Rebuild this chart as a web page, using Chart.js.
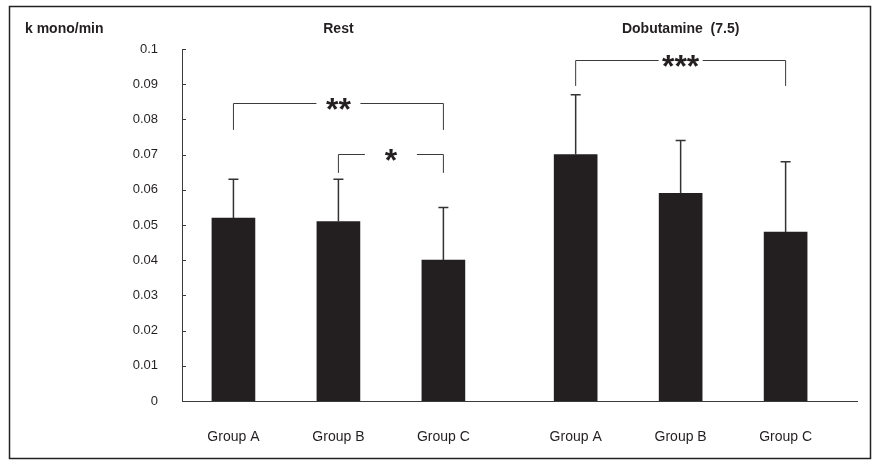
<!DOCTYPE html>
<html>
<head>
<meta charset="utf-8">
<script src="https://cdn.jsdelivr.net/npm/chart.js@4"></script>
<style>
  html, body { margin: 0; background: #fff; }
  #wrap { width: 874px; height: 460px; }
</style>
</head>
<body>
<div id="wrap"><canvas id="kChart"></canvas></div>
<script>
const groups = ["Group A", "Group B", "Group C"];
const conditions = ["Rest", "Dobutamine  (7.5)"];
const restMeans = [0.052, 0.051, 0.040];
const restSD = [0.011, 0.012, 0.015];
const dobuMeans = [0.070, 0.059, 0.048];
const dobuSD = [0.017, 0.015, 0.020];
const yTicks = [0, 0.01, 0.02, 0.03, 0.04, 0.05, 0.06, 0.07, 0.08, 0.09, 0.1];
const yLabel = "k mono/min";
// [condition, from group, to group, stars, bracket level, foot level]
const sigMarks = [
    [0, 0, 2, "**", 0.0847, 0.077],
    [0, 1, 2, "*", 0.0702, 0.0648],
    [1, 0, 2, "***", 0.0969, 0.0895]
];

const ink = "#231f20";
const lineCol = "#3a3a3a";

// x position of a bar: groups sit one unit apart, second condition shifted right
function slot(c, g) {
    return c * 3.26 + g + 0.49;
}

const allMeans = [restMeans, dobuMeans];
const allSD = [restSD, dobuSD];
const xLabels = [];
const xPos = [];
for (let c = 0; c < conditions.length; c++) {
    for (let g = 0; g < groups.length; g++) {
        xLabels.push(groups[g]);
        xPos.push(slot(c, g));
    }
}

const decorations = {
    id: "decorations",
    afterDatasetsDraw(chart) {
        const ctx = chart.ctx;
        const x = chart.scales.x;
        const y = chart.scales.y;
        ctx.save();

        // y tick marks pointing into the plot
        ctx.strokeStyle = lineCol;
        ctx.lineWidth = 1;
        for (const v of yTicks) {
            const py = Math.round(y.getPixelForValue(v)) + 0.5;
            ctx.beginPath();
            ctx.moveTo(x.left, py);
            ctx.lineTo(x.left + 4, py);
            ctx.stroke();
        }

        // error bars (upper only)
        ctx.strokeStyle = "#333";
        ctx.lineWidth = 1.5;
        for (let c = 0; c < conditions.length; c++) {
            const meta = chart.getDatasetMeta(c);
            meta.data.forEach((bar, g) => {
                const top = y.getPixelForValue(allMeans[c][g] + allSD[c][g]);
                ctx.beginPath();
                ctx.moveTo(bar.x, bar.y);
                ctx.lineTo(bar.x, top);
                ctx.moveTo(bar.x - 5, top);
                ctx.lineTo(bar.x + 5, top);
                ctx.stroke();
            });
        }

        // significance brackets
        ctx.lineWidth = 1;
        ctx.strokeStyle = lineCol;
        ctx.fillStyle = ink;
        ctx.font = "bold 32px 'Liberation Sans', Arial, sans-serif";
        ctx.textAlign = "center";
        ctx.textBaseline = "alphabetic";
        for (const m of sigMarks) {
            const x1 = x.getPixelForValue(slot(m[0], m[1]));
            const x2 = x.getPixelForValue(slot(m[0], m[2]));
            const ly = Math.round(y.getPixelForValue(m[4])) + 0.5;
            const fy = y.getPixelForValue(m[5]);
            const mid = (x1 + x2) / 2;
            const half = m[3].length === 1 ? 26 : 22;
            ctx.beginPath();
            ctx.moveTo(x1, fy);
            ctx.lineTo(x1, ly);
            ctx.lineTo(mid - half, ly);
            ctx.moveTo(mid + half, ly);
            ctx.lineTo(x2, ly);
            ctx.lineTo(x2, fy);
            ctx.stroke();
            ctx.fillText(m[3], mid, ly + 32 * 0.52);
        }

        // titles
        ctx.font = "bold 14px 'Liberation Sans', Arial, sans-serif";
        ctx.textBaseline = "middle";
        for (let c = 0; c < conditions.length; c++) {
            ctx.fillText(conditions[c], x.getPixelForValue(slot(c, 1)), 29);
        }
        ctx.textAlign = "left";
        ctx.fillText(yLabel, 25, 29);

        // frame
        ctx.strokeStyle = "#222";
        ctx.lineWidth = 1.5;
        ctx.strokeRect(9.5, 6.5, 861, 452);
        ctx.restore();
    }
};

new Chart(document.getElementById("kChart"), {
    type: "bar",
    data: {
        datasets: conditions.map((name, c) => ({
            label: name,
            data: allMeans[c].map((v, g) => ({ x: slot(c, g), y: v })),
            backgroundColor: ink,
            borderWidth: 0,
            barThickness: 43,
            grouped: false
        }))
    },
    options: {
        responsive: true,
        maintainAspectRatio: false,
        animation: false,
        devicePixelRatio: 1,
        layout: { padding: { top: 49, right: 17, bottom: 0, left: 0 } },
        plugins: {
            legend: { display: false },
            tooltip: { enabled: false }
        },
        scales: {
            x: {
                type: "linear",
                min: 0,
                max: 6.43,
                offset: false,
                grid: { display: false, drawTicks: false },
                border: { display: true, color: lineCol, width: 1 },
                afterBuildTicks: axis => { axis.ticks = xPos.map(v => ({ value: v })); },
                afterFit: axis => { axis.height = 59; },
                ticks: {
                    padding: 28,
                    color: ink,
                    maxRotation: 0,
                    autoSkip: false,
                    font: { family: "'Liberation Sans', Arial, sans-serif", size: 14 },
                    callback: (value, index) => xLabels[index]
                }
            },
            y: {
                min: 0,
                max: 0.1,
                grid: { display: false, drawTicks: false },
                border: { display: true, color: lineCol, width: 1 },
                afterBuildTicks: axis => { axis.ticks = yTicks.map(v => ({ value: v })); },
                afterFit: axis => { axis.width = 182; },
                ticks: {
                    padding: 24,
                    color: ink,
                    font: { family: "'Liberation Sans', Arial, sans-serif", size: 13 },
                    callback: value => String(value)
                }
            }
        }
    },
    plugins: [decorations]
});
</script>
</body>
</html>
